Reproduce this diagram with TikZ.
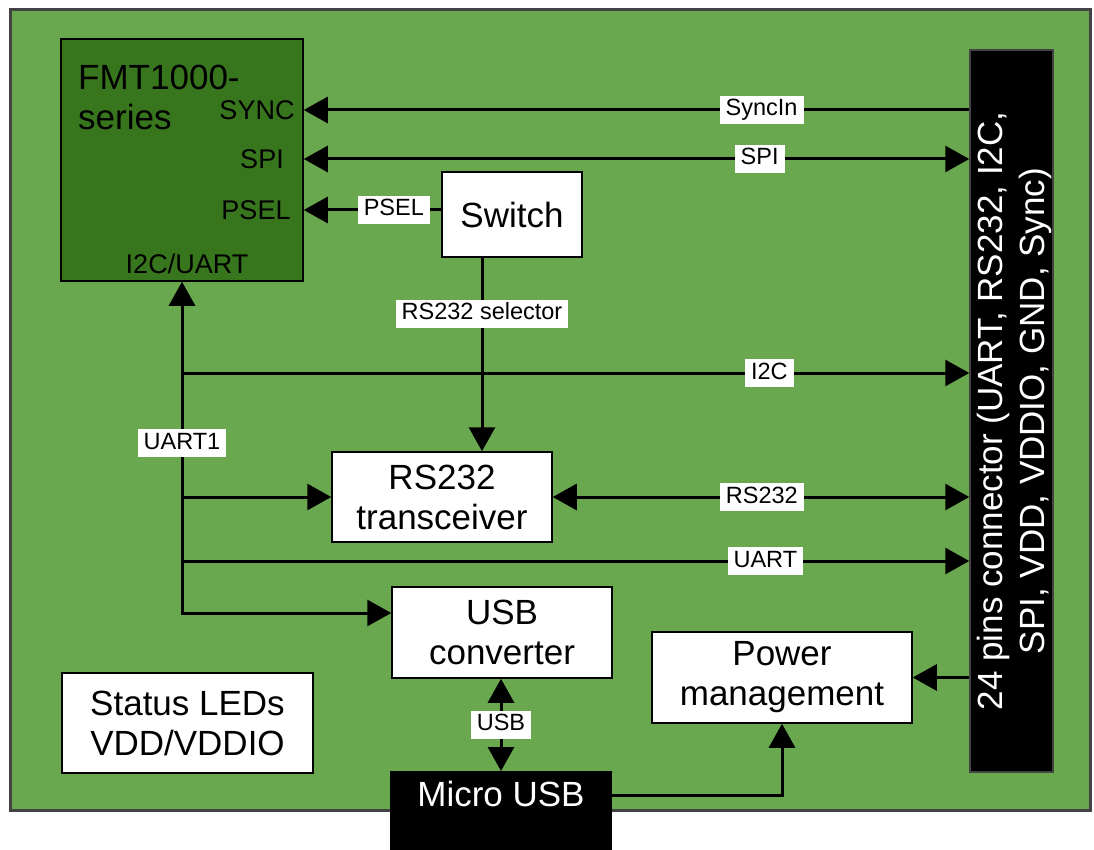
\documentclass[tikz,border=0pt]{standalone}
\usepackage{fontspec}
\setmainfont{Liberation Sans}
\usetikzlibrary{arrows.meta,positioning}
\definecolor{board}{HTML}{6AA84F}
\definecolor{chip}{HTML}{38761D}
\definecolor{edge}{HTML}{434343}
\newcommand\boxfont{\fontsize{35}{40}\selectfont}
\newcommand\pinfont{\fontsize{27}{30}\selectfont}
\newcommand\tagfont{\fontsize{23.5}{26}\selectfont}
\newcommand\connfont{\fontsize{35}{42}\selectfont}
\tikzset{
  blk/.style={draw=black,line width=1.5pt,fill=white,align=center,font=\boxfont,inner sep=0pt},
  tag/.style={fill=white,font=\tagfont,inner xsep=6pt,inner ysep=3pt,text height=17pt,text depth=5pt},
  pinname/.style={font=\pinfont,inner sep=0pt},
  wire/.style={line width=3pt},
}

\begin{document}
\begin{tikzpicture}[x=1pt,y=-1pt,>={Triangle[length=24pt,width=26pt]}]
      \useasboundingbox (0,0) rectangle (1094,850);
      % board and module
      \node[draw=edge,fill=board,line width=3pt,minimum width=1080pt,minimum height=800pt,inner sep=0pt] (pcb) at (550,410) {};
      \node[draw=black,fill=chip,line width=1.5pt,minimum width=242pt,minimum height=242pt,inner sep=0pt] (fmt) at (182,160) {};
      \node[anchor=north west,align=left,font=\boxfont,inner sep=0pt] (fmtname) at (78,65) {FMT1000-\\series};
      \node[pinname] (sync) at (257,110) {SYNC};
      \node[pinname] (spi) at (262,159) {SPI};
      \node[pinname] (psel) at (256,210) {PSEL};
      \node[pinname] (bus) at (187,264) {I2C/UART};
      % blocks
      \node[blk,minimum width=140pt,minimum height=85pt] (sw) at (512,214.5) {Switch};
      \node[blk,minimum width=220pt,minimum height=90pt] (rs) at (442,497) {RS232\\transceiver};
      \node[blk,minimum width=220pt,minimum height=91pt] (usbc) at (502,632.5) {USB\\converter};
      \node[blk,minimum width=260pt,minimum height=91pt] (pwr) at (782,677.5) {Power\\management};
      \node[blk,minimum width=251pt,minimum height=100pt] (leds) at (187.5,723) {Status LEDs\\VDD/VDDIO};
      \node[fill=black,text=white,font=\boxfont,minimum width=222pt,text height=25pt,text depth=55pt,inner ysep=10pt,anchor=north] (musb) at (501,771) {Micro USB};
      \node[draw=edge,fill=black,line width=1.5pt,minimum width=83pt,minimum height=722pt,inner sep=0pt] (conn) at (1011.5,411) {};
      \node[rotate=90,text=white,align=center,font=\connfont,inner sep=0pt] (conntext) at ([xshift=3pt]conn.center) {24 pins connector (UART, RS232, I2C,\\SPI, VDD, VDDIO, GND, Sync)};
      % wires
      \coordinate (trunk) at (182,613);
      \draw[wire,<-] (fmt.east |- sync) -- node[tag,pos=0.688] (syncin) {SyncIn} (conn.west |- sync);
      \draw[wire,<->] (fmt.east |- spi) -- node[tag,pos=0.685] (spitag) {SPI} (conn.west |- spi);
      \draw[wire,->] (sw.west |- psel) -- node[tag,pos=0.345] (pseltag) {PSEL} (fmt.east |- psel);
      \draw[wire,->] (sw.south -| 482,0) -- node[tag,pos=0.29] (seltag) {RS232 selector} (rs.north -| 482,0);
      \draw[wire,<->] (fmt.south) |- node[tag,pos=0.244] (uart1) {UART1} (usbc.west |- trunk);
      \draw[wire,->] (trunk |- rs.west) -- (rs.west);
      \draw[wire,->] (trunk |- 0,373) -- node[tag,pos=0.746] (i2ctag) {I2C} (conn.west |- 0,373);
      \draw[wire,->] (trunk |- 0,561) -- node[tag,pos=0.741] (uarttag) {UART} (conn.west |- 0,561);
      \draw[wire,<->] (rs.east) -- node[tag,pos=0.502] (rstag) {RS232} (conn.west |- rs.east);
      \draw[wire,<->] (usbc.south -| 501,0) -- node[tag] (usbtag) {USB} (musb.north -| 501,0);
      \draw[wire,->] (conn.west |- pwr.east) -- (pwr.east);
      \draw[wire,->] ([yshift=-24pt]musb.north east) -| (pwr.south);
    \end{tikzpicture}
\end{document}
